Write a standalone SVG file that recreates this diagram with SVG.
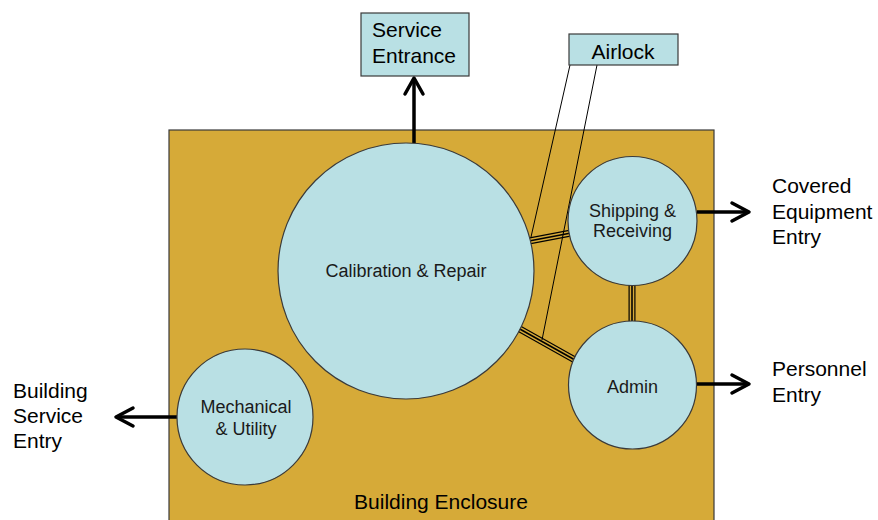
<svg xmlns="http://www.w3.org/2000/svg" width="878" height="520" viewBox="0 0 878 520">
<defs>
<style>
.room{fill:#b9e0e4;stroke:#3a3a3a;stroke-width:1.2}
.box{fill:#b9e0e4;stroke:#3a3a3a;stroke-width:1.2}
.t{font-family:"Liberation Sans",Arial,sans-serif;fill:#000;font-size:21px}
.c{font-family:"Liberation Sans",Arial,sans-serif;fill:#1a1a1a;font-size:18px;text-anchor:middle}
.shaft{stroke:#000;stroke-width:3.5;fill:none}
.head{stroke:#000;stroke-width:3.5;fill:none;stroke-linecap:round;stroke-linejoin:round}
.lnk1{stroke:#000;stroke-width:7;fill:none}
.lnk2{stroke:#d6aa38;stroke-width:4.6;fill:none}
.lnk3{stroke:#000;stroke-width:1.6;fill:none}
.lead{stroke:#000;stroke-width:1;fill:none}
</style>
</defs>
<rect width="878" height="520" fill="#fff"/>
<g id="enclosure">
<rect x="169" y="130" width="545" height="400" fill="#d6aa38" stroke="#3a3a3a" stroke-width="1.2"/>
<text class="t" x="441" y="509" text-anchor="middle">Building Enclosure</text>
</g>
<g id="connectors">
<line class="shaft" x1="414" y1="143" x2="414" y2="79"/>
<path class="head" d="M405,94 L414,78 L423,94"/>
<line class="shaft" x1="177" y1="417" x2="118" y2="417"/>
<path class="head" d="M133,408 L116,417 L133,426"/>
<line class="shaft" x1="697" y1="212" x2="748" y2="212"/>
<path class="head" d="M732,203 L749,212 L732,221"/>
<line class="shaft" x1="697" y1="384" x2="748" y2="384"/>
<path class="head" d="M732,375 L749,384 L732,393"/>
<g id="link-cal-ship">
<line class="lnk1" x1="529" y1="241" x2="571" y2="233"/>
<line class="lnk2" x1="529" y1="241" x2="571" y2="233"/>
<line class="lnk3" x1="529" y1="241" x2="571" y2="233"/>
</g>
<g id="link-cal-admin">
<line class="lnk1" x1="518" y1="328" x2="575" y2="360"/>
<line class="lnk2" x1="518" y1="328" x2="575" y2="360"/>
<line class="lnk3" x1="518" y1="328" x2="575" y2="360"/>
</g>
<g id="link-ship-admin">
<line class="lnk1" x1="632" y1="283" x2="632" y2="323"/>
<line class="lnk2" x1="632" y1="283" x2="632" y2="323"/>
<line class="lnk3" x1="632" y1="283" x2="632" y2="323"/>
</g>
<line class="lead" x1="570" y1="65" x2="531" y2="237"/>
<line class="lead" x1="597" y1="65" x2="542" y2="340"/>
</g>
<g id="calibration">
<circle class="room" cx="406" cy="271" r="128"/>
<text class="c" x="406" y="277">Calibration &amp; Repair</text>
</g>
<g id="shipping">
<circle class="room" cx="632.5" cy="221" r="64.5"/>
<text class="c" x="632.5" y="216.5">Shipping &amp;</text>
<text class="c" x="632.5" y="237">Receiving</text>
</g>
<g id="admin">
<circle class="room" cx="632.5" cy="385" r="64"/>
<text class="c" x="632.5" y="393">Admin</text>
</g>
<g id="mechanical">
<circle class="room" cx="245" cy="417" r="68"/>
<text class="c" x="246" y="413">Mechanical</text>
<text class="c" x="246" y="435">&amp; Utility</text>
</g>
<g id="service-entrance">
<rect class="box" x="361" y="13" width="108" height="63"/>
<text class="t" x="372" y="37">Service</text>
<text class="t" x="372" y="63">Entrance</text>
</g>
<g id="airlock">
<rect class="box" x="569" y="34" width="109" height="31"/>
<text class="t" x="623" y="59" text-anchor="middle">Airlock</text>
</g>
<g id="building-service-entry">
<text class="t" x="13" y="398">Building</text>
<text class="t" x="13" y="423">Service</text>
<text class="t" x="13" y="448">Entry</text>
</g>
<g id="covered-entry">
<text class="t" x="772" y="193">Covered</text>
<text class="t" x="772" y="219">Equipment</text>
<text class="t" x="772" y="244">Entry</text>
</g>
<g id="personnel-entry">
<text class="t" x="772" y="376">Personnel</text>
<text class="t" x="772" y="402">Entry</text>
</g>
</svg>
